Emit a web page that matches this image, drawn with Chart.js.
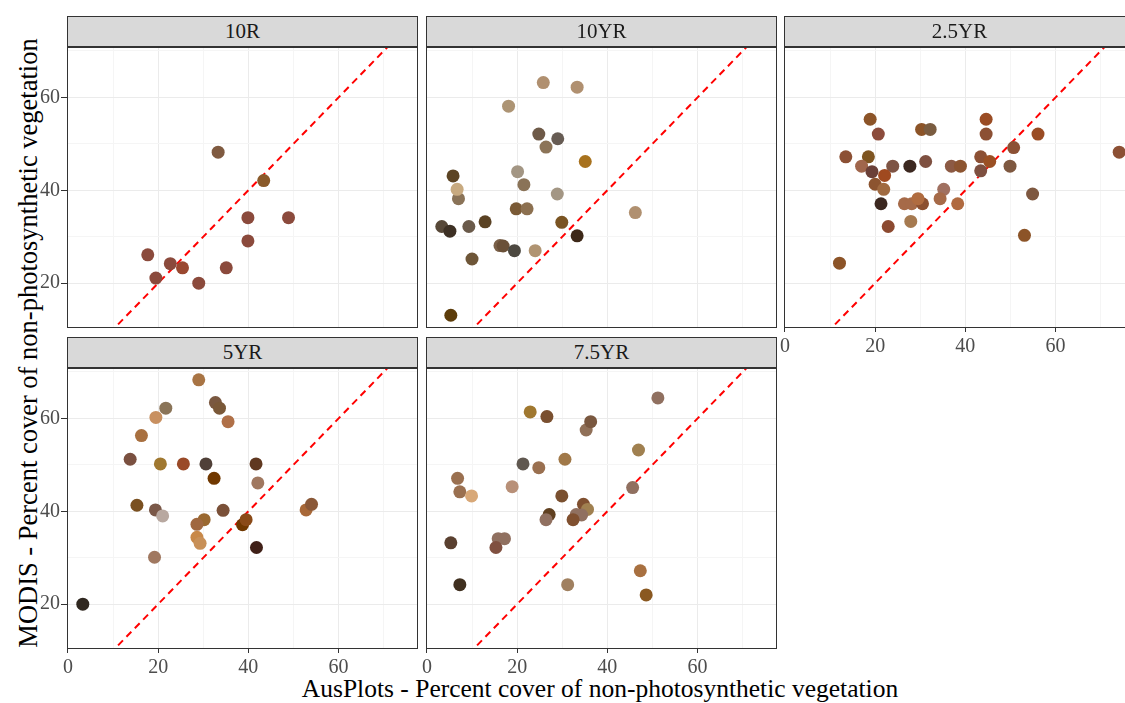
<!DOCTYPE html>
<html>
<head>
    <meta charset="utf-8">
    <title>MODIS vs AusPlots NPV cover</title>
    <script src="https://cdn.jsdelivr.net/npm/chart.js"></script>
    <style>
        body { margin: 0; background: #fff; font-family: "Liberation Serif", "Times New Roman", serif; }
        #wrap { position: relative; width: 1125px; height: 703px; overflow: hidden; }
        .panel { position: absolute; }
        .strip { position: absolute; width: 351px; height: 31px; box-sizing: border-box; background: #d9d9d9;
                 border: 1px solid #333; text-align: center; font-size: 21px; line-height: 29px; color: #1a1a1a; z-index: 3; }
        .ytitle { position: absolute; left: 28px; top: 343px; transform: translate(-50%, -50%) rotate(-90deg);
                  white-space: nowrap; font-size: 26.5px; color: #000; }
        .xtitle { position: absolute; left: 600px; top: 689px; transform: translate(-50%, -50%);
                  white-space: nowrap; font-size: 25.5px; color: #000; }
    </style>
</head>
<body>
<div id="wrap">
    <div class="ytitle">MODIS - Percent cover of non-photosynthetic vegetation</div>
    <div class="xtitle">AusPlots - Percent cover of non-photosynthetic vegetation</div>
</div>

<script>
// facet names
const panelNames = ['10R', '10YR', '2.5YR', '5YR', '7.5YR'];

// axis ticks
const xGrid = [0, 10, 20, 30, 40, 50, 60, 70];
const yGrid = [20, 30, 40, 50, 60, 70];
const xLabels = [0, 20, 40, 60];
const yLabels = [20, 40, 60];
const xRange = [-0.2, 77.6];
const yRange = [10.35, 70.85];

// 1:1 reference line
const refLine = [0, 80];

// 10R
const x10R = [17.7, 19.5, 22.7, 25.4, 29.0, 33.3, 35.1, 39.9, 39.9, 43.4, 48.9];
const y10R = [26.1, 21.1, 24.2, 23.3, 20.0, 48.2, 23.3, 34.1, 29.1, 42.1, 34.1];
const c10R = ['#8b4a3c', '#8b4a3c', '#8b4a3c', '#9a4830', '#8b4a3c', '#7f5a40', '#8b4a3c', '#8b4a3c', '#8b4a3c', '#8a5a2a', '#8b4a3c'];

// 10YR
const x10YR = [25.8, 33.3, 18.1, 24.8, 29.0, 26.4, 35.1, 5.8, 20.1, 7.0, 6.7, 21.5, 28.9, 19.8, 22.2, 46.2, 3.3, 5.1, 9.3, 12.9, 29.9, 33.3, 16.2, 16.9, 19.4, 24.0, 10.0, 5.3];
const y10YR = [63.2, 62.2, 58.1, 52.1, 51.1, 49.3, 46.2, 43.1, 44.0, 38.2, 40.2, 41.2, 39.2, 36.0, 36.0, 35.2, 32.2, 31.2, 32.2, 33.2, 33.1, 30.2, 28.1, 28.0, 27.0, 27.0, 25.2, 13.1];
const c10YR = ['#b09070', '#b09070', '#ad9474', '#6e5a48', '#675c54', '#8c7458', '#a8721e', '#5c4424', '#a39684', '#8a7358', '#c8aa80', '#8a7358', '#a39684', '#7a5a36', '#8c7050', '#b09070', '#574838', '#3d3024', '#6a5a4a', '#5a4224', '#7a5422', '#3d2818', '#7a6048', '#6a5038', '#4c4840', '#b09472', '#6e5638', '#5c3c0a'];

// 2.5YR
const x25YR = [18.9, 44.6, 20.7, 30.3, 32.2, 44.6, 56.1, 50.7, 74.1, 13.5, 18.5, 43.4, 45.4, 31.2, 17.0, 23.9, 27.7, 36.9, 38.9, 49.9, 19.3, 43.4, 22.1, 20.0, 21.9, 35.2, 54.9, 21.3, 26.5, 28.1, 30.5, 29.5, 34.4, 38.3, 27.9, 22.9, 53.1, 12.1];
const y25YR = [55.3, 55.3, 52.1, 53.1, 53.1, 52.1, 52.1, 49.2, 48.2, 47.2, 47.2, 47.2, 46.2, 46.2, 45.2, 45.2, 45.2, 45.2, 45.2, 45.2, 44.0, 44.2, 43.2, 41.3, 40.2, 40.2, 39.2, 37.1, 37.1, 37.1, 37.1, 38.2, 38.2, 37.1, 33.3, 32.2, 30.3, 24.3];
const c25YR = ['#8c5428', '#9a4c24', '#8c4c3c', '#8c5428', '#7a5c40', '#8c5034', '#9a4c24', '#8c5034', '#8c5034', '#8c5034', '#7e5420', '#8c5034', '#9a5024', '#7e5040', '#a0664c', '#7e5444', '#3c2820', '#8c5a44', '#8c5430', '#7e5840', '#6a4038', '#7e5040', '#a04a20', '#8c5430', '#a06a40', '#a07060', '#7e5840', '#3c2820', '#a66a48', '#a66a48', '#8c5030', '#b06c40', '#a66a48', '#b06a40', '#a67a50', '#8c4a30', '#8c5428', '#8c5428'];

// 5YR
const x5YR = [29.0, 32.7, 33.6, 21.7, 19.5, 35.5, 16.3, 13.8, 20.5, 25.6, 30.6, 41.7, 32.4, 42.1, 15.3, 52.8, 54.0, 19.4, 21.0, 34.4, 30.2, 28.6, 38.7, 39.5, 28.6, 29.3, 41.8, 19.2, 3.3];
const y5YR = [68.3, 63.4, 62.2, 62.2, 60.2, 59.3, 56.3, 51.2, 50.2, 50.2, 50.2, 50.2, 47.1, 46.1, 41.3, 40.3, 41.5, 40.3, 39.0, 40.2, 38.2, 37.2, 37.1, 38.2, 34.4, 33.1, 32.2, 30.1, 20.0];
const c5YR = ['#a87444', '#7a5840', '#7a5838', '#8a7458', '#c89060', '#b07048', '#a87040', '#7a5040', '#a07830', '#9a4a28', '#504038', '#603820', '#703800', '#a07860', '#7a5020', '#a86838', '#8a5838', '#7a5848', '#b8a8a0', '#7a5038', '#9a6830', '#a06840', '#703800', '#8a4a18', '#c88848', '#c89058', '#402018', '#a07860', '#302820'];

// 7.5YR
const x75YR = [51.2, 22.9, 26.6, 35.3, 36.3, 46.9, 30.6, 21.3, 24.8, 6.8, 7.3, 9.9, 18.9, 45.6, 29.9, 34.7, 35.6, 33.1, 34.3, 27.1, 26.4, 32.4, 5.3, 15.8, 17.2, 15.3, 47.3, 7.3, 31.2, 48.6];
const y75YR = [64.4, 61.4, 60.4, 57.5, 59.3, 53.2, 51.2, 50.2, 49.4, 47.1, 44.2, 43.3, 45.3, 45.1, 43.3, 41.5, 40.4, 39.3, 39.2, 39.3, 38.2, 38.2, 33.2, 34.1, 34.1, 32.2, 27.2, 24.2, 24.2, 22.0];
const c75YR = ['#907060', '#a07830', '#7a5030', '#907058', '#7a5840', '#a08050', '#a07848', '#605850', '#9a7050', '#9a7050', '#9a7050', '#d8a878', '#b89078', '#907060', '#7a5030', '#805030', '#a08050', '#907060', '#907060', '#604020', '#907060', '#805030', '#5a4030', '#907060', '#907060', '#805040', '#a87040', '#403020', '#a08060', '#8a5820'];

const seriesX = [x10R, x10YR, x25YR, x5YR, x75YR];
const seriesY = [y10R, y10YR, y25YR, y5YR, y75YR];
const seriesC = [c10R, c10YR, c25YR, c5YR, c75YR];

// layout: plot-area left/top, show y ticks, show x ticks
const panelPos = [
    [67, 47, true, false],
    [426, 47, false, false],
    [784, 47, false, true],
    [67, 368, true, true],
    [426, 368, false, true]
];
const plotW = 351, plotH = 281;
const padL = 60, padT = 20, padR = 10, padB = 40;

const serif = '"Liberation Serif", "Times New Roman", serif';
Chart.defaults.font.family = serif;
Chart.defaults.color = '#4d4d4d';

const panelBox = {
    id: 'panelBox',
    afterDraw(chart) {
        const a = chart.chartArea;
        const ctx = chart.ctx;
        ctx.save();
        ctx.strokeStyle = '#333';
        ctx.lineWidth = 1;
        ctx.strokeRect(a.left + 0.5, a.top + 0.5, a.width - 1, a.height - 1);
        ctx.restore();
    }
};

function gridColor(labels) {
    return (c) => (c.tick && labels.includes(c.tick.value)) ? '#ebebeb' : '#f5f5f5';
}
function tickColor(labels) {
    return (c) => (c.tick && labels.includes(c.tick.value)) ? '#333' : 'rgba(0,0,0,0)';
}

const wrap = document.getElementById('wrap');

panelNames.forEach((name, i) => {
    const [left, top, showY, showX] = panelPos[i];

    const strip = document.createElement('div');
    strip.className = 'strip';
    strip.style.left = left + 'px';
    strip.style.top = (top - 31) + 'px';
    strip.textContent = name;
    wrap.appendChild(strip);

    const box = document.createElement('div');
    box.className = 'panel';
    box.style.left = (left - padL) + 'px';
    box.style.top = (top - padT) + 'px';
    const canvas = document.createElement('canvas');
    canvas.width = padL + plotW + padR;
    canvas.height = padT + plotH + padB;
    box.appendChild(canvas);
    wrap.appendChild(box);

    const pts = seriesX[i].map((x, k) => ({ x: x, y: seriesY[i][k] }));

    new Chart(canvas, {
        type: 'scatter',
        data: {
            datasets: [{
                data: pts,
                backgroundColor: seriesC[i],
                borderWidth: 0,
                pointRadius: 6.5,
                pointHoverRadius: 6.5
            }, {
                type: 'line',
                data: refLine.map(v => ({ x: v, y: v })),
                borderColor: '#ff0000',
                borderWidth: 2,
                borderDash: [7, 5],
                pointRadius: 0,
                fill: false
            }]
        },
        options: {
            responsive: false,
            animation: false,
            layout: { padding: { top: padT, right: padR, left: 0, bottom: 0 } },
            plugins: { legend: { display: false }, tooltip: { enabled: false } },
            scales: {
                x: {
                    type: 'linear',
                    min: xRange[0],
                    max: xRange[1],
                    afterBuildTicks: (s) => { s.ticks = xGrid.map(v => ({ value: v })); },
                    afterFit: (s) => { s.height = padB; },
                    border: { display: false },
                    grid: { color: gridColor(xLabels), drawTicks: showX, tickLength: 4, tickColor: tickColor(xLabels) },
                    ticks: {
                        display: showX,
                        padding: 3,
                        maxRotation: 0,
                        autoSkip: false,
                        font: { family: serif, size: 20 },
                        color: '#4d4d4d',
                        callback: (v) => xLabels.includes(v) ? String(v) : ''
                    }
                },
                y: {
                    type: 'linear',
                    min: yRange[0],
                    max: yRange[1],
                    afterBuildTicks: (s) => { s.ticks = yGrid.map(v => ({ value: v })); },
                    afterFit: (s) => { s.width = padL; },
                    border: { display: false },
                    grid: { color: gridColor(yLabels), drawTicks: showY, tickLength: 6, tickColor: tickColor(yLabels) },
                    ticks: {
                        display: showY,
                        padding: 1,
                        autoSkip: false,
                        font: { family: serif, size: 20 },
                        color: '#4d4d4d',
                        callback: (v) => yLabels.includes(v) ? String(v) : ''
                    }
                }
            }
        },
        plugins: [panelBox]
    });
});
</script>
</body>
</html>
